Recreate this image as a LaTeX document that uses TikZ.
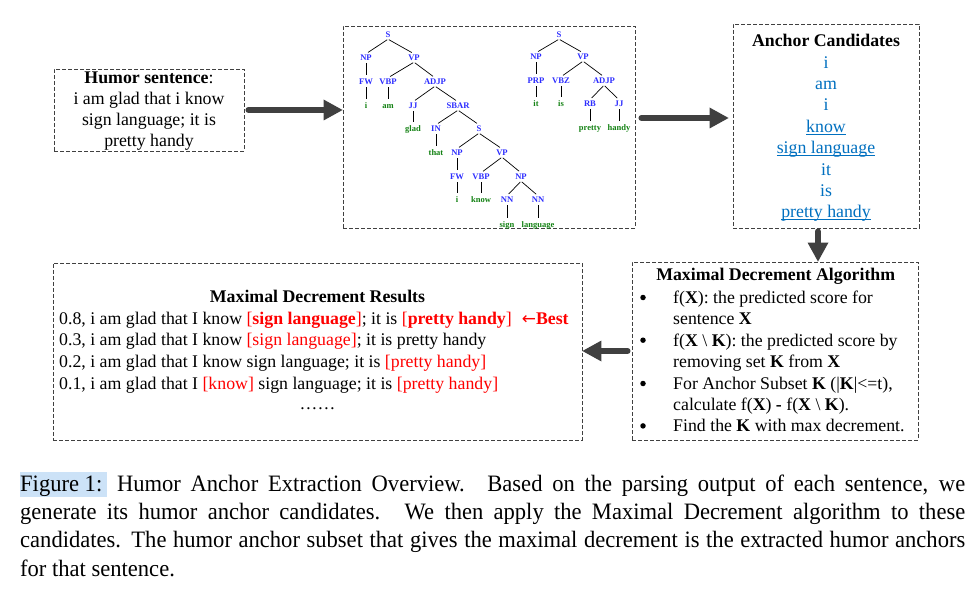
\documentclass[tikz,border=0pt]{standalone}
\usepackage{fontspec}
\setmainfont{Liberation Serif}
\newfontfamily\capfont[FakeStretch=0.96]{Liberation Serif}
\newfontfamily\symfont{DejaVu Sans}
\usetikzlibrary{arrows.meta}
\definecolor{boxgray}{HTML}{404040}
\definecolor{tlab}{RGB}{45,45,255}
\definecolor{tword}{RGB}{20,130,20}
\definecolor{anc}{HTML}{0070C0}
\definecolor{hl}{RGB}{204,226,247}
\definecolor{redtxt}{RGB}{255,0,0}
\newcommand\ulword[1]{\setbox0\hbox{#1}\rlap{\rule[-2.4pt]{\wd0}{0.9pt}}\box0}
\newcommand\hlbox[1]{{\setlength\fboxsep{0pt}\colorbox{hl}{\rule[-6pt]{0pt}{25pt}#1\hspace{5pt}}}}
\newcommand\capline[1]{\hbox to 945pt{#1}}
\begin{document}
\begin{tikzpicture}[x=1pt,y=-1pt,
  dbox/.style={draw=boxgray, line width=0.9pt, dash pattern=on 4pt off 2pt, inner sep=0pt},
  txt/.style={inner sep=0pt, font=\fontsize{17.8}{21.4}\selectfont},
  captxt/.style={inner sep=0pt, anchor=base west, font=\capfont\fontsize{23.5}{28.4}\selectfont},
  tl/.style={inner sep=1pt, text height=6pt, text depth=0pt, text=tlab, font=\bfseries\fontsize{8.6}{10}\selectfont},
  tw/.style={inner sep=1pt, text height=6pt, text depth=0pt, text=tword, font=\bfseries\fontsize{8.5}{10}\selectfont},
  te/.style={draw=black, line width=0.7pt, shorten <=1pt, shorten >=2.5pt},
  bul/.style={circle, fill=black, inner sep=0pt, minimum size=5.5pt},
  bigarrow/.style={draw=boxgray, line width=6pt, line cap=round, -{Triangle[length=19pt,width=21pt,line width=0pt]}}
]
\useasboundingbox (0,0) rectangle (980,596);
\fill[white] (0,0) rectangle (980,596);

% ---------- boxes ----------
\node[dbox, minimum width=190pt, minimum height=82pt] (hum) at (149,110) {};
\node[dbox, minimum width=292pt, minimum height=202pt] (tree) at (489,127) {};
\node[dbox, minimum width=186pt, minimum height=204pt] (anc) at (826,126) {};
\node[dbox, minimum width=286pt, minimum height=178pt] (alg) at (775,351) {};
\node[dbox, minimum width=529pt, minimum height=177pt] (res) at (317.5,351.5) {};

% ---------- humor sentence ----------
\node[txt, anchor=base] (h1) at (149,84) {\textbf{Humor sentence}:};
\node[txt, anchor=base] (h2) at (149,105) {i am glad that i know};
\node[txt, anchor=base] (h3) at (149,126) {sign language; it is};
\node[txt, anchor=base] (h4) at (149,146.5) {pretty handy};

% ---------- parse tree 1 ----------
\node[tl] (t1S) at (388,35) {S};
\node[tl] (t1NP) at (366,58) {NP};
\node[tl] (t1VP) at (414,58) {VP};
\node[tl] (t1FW) at (366,82) {FW};
\node[tl] (t1VBP) at (388,82) {VBP};
\node[tl] (t1ADJP) at (435,82) {ADJP};
\node[tw] (t1i) at (366,106) {i};
\node[tw] (t1am) at (388,106) {am};
\node[tl] (t1JJ) at (413,106) {JJ};
\node[tl] (t1SBAR) at (458,106) {SBAR};
\node[tw] (t1glad) at (413,129) {glad};
\node[tl] (t1IN) at (436,129) {IN};
\node[tl] (t1Sb) at (479,129) {S};
\node[tw] (t1that) at (436,153) {that};
\node[tl] (t1NPb) at (457,153) {NP};
\node[tl] (t1VPb) at (502,153) {VP};
\node[tl] (t1FWb) at (457,177) {FW};
\node[tl] (t1VBPb) at (481,177) {VBP};
\node[tl] (t1NPc) at (521,177) {NP};
\node[tw] (t1ib) at (457,200) {i};
\node[tw] (t1know) at (481,200) {know};
\node[tl] (t1NNa) at (507,200) {NN};
\node[tl] (t1NNb) at (538,200) {NN};
\node[tw] (t1sign) at (507,225) {sign};
\node[tw] (t1lang) at (538,225) {language};
\foreach \a/\b in {t1S/t1NP, t1S/t1VP, t1NP/t1FW, t1FW/t1i, t1VP/t1VBP, t1VP/t1ADJP,
  t1VBP/t1am, t1ADJP/t1JJ, t1ADJP/t1SBAR, t1JJ/t1glad, t1SBAR/t1IN, t1SBAR/t1Sb,
  t1IN/t1that, t1Sb/t1NPb, t1Sb/t1VPb, t1NPb/t1FWb, t1FWb/t1ib, t1VPb/t1VBPb,
  t1VPb/t1NPc, t1VBPb/t1know, t1NPc/t1NNa, t1NPc/t1NNb, t1NNa/t1sign, t1NNb/t1lang}
  \draw[te] (\a.south) -- (\b.north);

% ---------- parse tree 2 ----------
\node[tl] (t2S) at (559,35) {S};
\node[tl] (t2NP) at (536,57) {NP};
\node[tl] (t2VP) at (583,57) {VP};
\node[tl] (t2PRP) at (536,81) {PRP};
\node[tl] (t2VBZ) at (561,81) {VBZ};
\node[tl] (t2ADJP) at (604,81) {ADJP};
\node[tw] (t2it) at (536,104) {it};
\node[tw] (t2is) at (561,104) {is};
\node[tl] (t2RB) at (590,104) {RB};
\node[tl] (t2JJ) at (619,104) {JJ};
\node[tw] (t2pretty) at (590,128) {pretty};
\node[tw] (t2handy) at (619,128) {handy};
\foreach \a/\b in {t2S/t2NP, t2S/t2VP, t2NP/t2PRP, t2PRP/t2it, t2VP/t2VBZ, t2VP/t2ADJP,
  t2VBZ/t2is, t2ADJP/t2RB, t2ADJP/t2JJ, t2RB/t2pretty, t2JJ/t2handy}
  \draw[te] (\a.south) -- (\b.north);

% ---------- anchor candidates ----------
\node[txt, anchor=base] (c0) at (826,46.7) {\textbf{Anchor Candidates}};
\begin{scope}[every node/.append style={text=anc}]
\node[txt, anchor=base] (c1) at (826,68.3) {i};
\node[txt, anchor=base] (c2) at (826,89.5) {am};
\node[txt, anchor=base] (c3) at (826,110.8) {i};
\node[txt, anchor=base] (c4) at (826,132.4) {\ulword{know}};
\node[txt, anchor=base] (c5) at (826,153.6) {\ulword{sign language}};
\node[txt, anchor=base] (c6) at (826,175.3) {it};
\node[txt, anchor=base] (c7) at (826,196.6) {is};
\node[txt, anchor=base] (c8) at (826,218) {\ulword{pretty handy}};
\end{scope}

% ---------- algorithm ----------
\node[txt, anchor=base] (g0) at (775.7,280.7) {\textbf{Maximal Decrement Algorithm}};
\node[bul] (gb1) at (643,297.5) {};
\node[bul] (gb2) at (643,340.2) {};
\node[bul] (gb3) at (643,383.5) {};
\node[bul] (gb4) at (643,425.9) {};
\node[txt, anchor=base west] (g1) at (673,303.3) {f(\textbf{X}): the predicted score for};
\node[txt, anchor=base west] (g2) at (673,324.4) {sentence \textbf{X}};
\node[txt, anchor=base west] (g3) at (673,346) {f(\textbf{X} \textbackslash{} \textbf{K}): the predicted score by};
\node[txt, anchor=base west] (g4) at (673,367.4) {removing set \textbf{K} from \textbf{X}};
\node[txt, anchor=base west] (g5) at (673,389.3) {For Anchor Subset \textbf{K} (|\textbf{K}|<=t),};
\node[txt, anchor=base west] (g6) at (673,410.7) {calculate f(\textbf{X}) \textbf{-} f(\textbf{X} \textbackslash{} \textbf{K}).};
\node[txt, anchor=base west] (g7) at (673,431.7) {Find the \textbf{K} with max decrement.};

% ---------- results ----------
\node[txt, anchor=base] (r0) at (317.5,302) {\textbf{Maximal Decrement Results}};
\node[txt, anchor=base west] (r1) at (59,324) {0.8, i am glad that I know {\color{redtxt}[\textbf{sign language}]}; it is {\color{redtxt}[\textbf{pretty handy}]}\hspace{10pt}{\color{redtxt}{\symfont\fontsize{17}{20}\selectfont ←}\textbf{Best}}};
\node[txt, anchor=base west] (r2) at (59,345.5) {0.3, i am glad that I know {\color{redtxt}[sign language]}; it is pretty handy};
\node[txt, anchor=base west] (r3) at (59,367) {0.2, i am glad that I know sign language; it is {\color{redtxt}[pretty handy]}};
\node[txt, anchor=base west] (r4) at (59,389) {0.1, i am glad that I {\color{redtxt}[know]} sign language; it is {\color{redtxt}[pretty handy]}};
\node[txt, anchor=base] (r5) at (317.5,409) {……};

% ---------- arrows ----------
\draw[bigarrow, shorten <=4pt] (hum.east) -- (hum.east -| tree.west);
\path ([yshift=9pt]tree.east) coordinate (a2s);
\draw[bigarrow, shorten <=6pt, shorten >=4pt] (a2s) -- (a2s -| anc.west);
\path ([xshift=-8pt]anc.south) coordinate (a3s);
\draw[bigarrow, shorten <=3pt] (a3s) -- (a3s |- alg.north);
\draw[bigarrow, shorten <=4pt] (alg.west) -- (alg.west -| res.east);

% ---------- caption ----------
\node[captxt] (cap1) at (20,491) {\capline{\hlbox{Figure 1:} Humor Anchor Extraction Overview.\hspace{0.12em} Based on the parsing output of each sentence, we}};
\node[captxt] (cap2) at (20,519.4) {\capline{generate its humor anchor candidates.\hspace{0.12em} We then apply the Maximal Decrement algorithm to these}};
\node[captxt] (cap3) at (20,547.8) {\capline{candidates. The humor anchor subset that gives the maximal decrement is the extracted humor anchors}};
\node[captxt] (cap4) at (20,576.2) {for that sentence.};
\end{tikzpicture}
\end{document}
